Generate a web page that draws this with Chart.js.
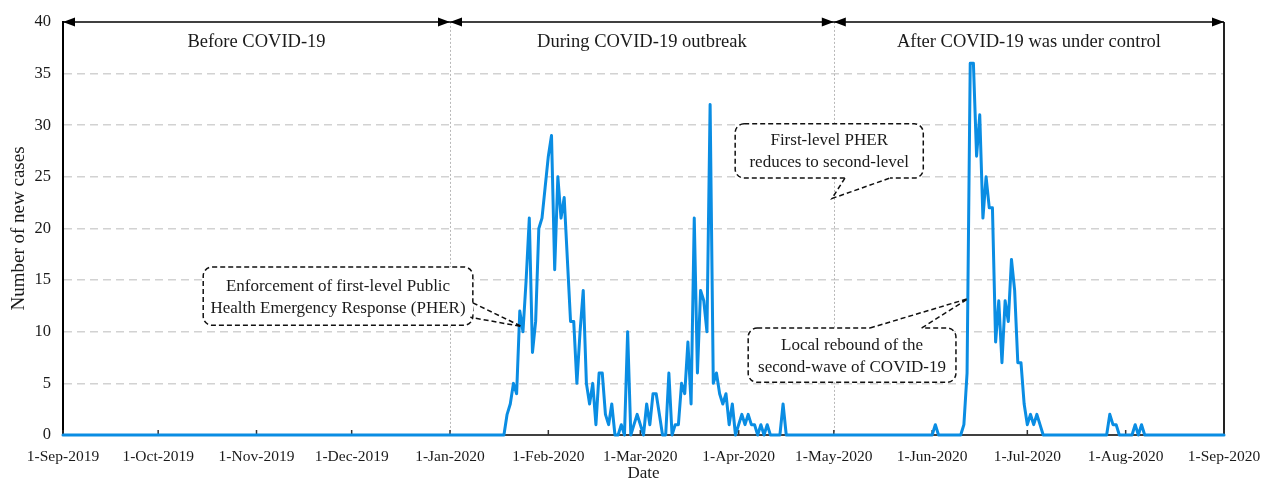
<!DOCTYPE html>
<html>
<head>
<meta charset="utf-8">
<script src="https://cdn.jsdelivr.net/npm/chart.js@4.4.0/dist/chart.umd.min.js"></script>
<style>
  html, body { margin: 0; padding: 0; background: #fff; }
  #wrap { width: 1269px; height: 481px; }
</style>
</head>
<body>
<div id="wrap"><canvas id="chart" width="1269" height="481"></canvas></div>
<script>
// tick labels on the date axis
const monthLabels = ['1-Sep-2019', '1-Oct-2019', '1-Nov-2019', '1-Dec-2019', '1-Jan-2020', '1-Feb-2020',
  '1-Mar-2020', '1-Apr-2020', '1-May-2020', '1-Jun-2020', '1-Jul-2020', '1-Aug-2020', '1-Sep-2020'];

// daily new cases (every other day is 0)
const firstWaveStart = '18-Jan-2020';
const firstWaveCases = [0, 2, 3, 5, 4, 12, 10, 15, 21, 8, 11, 20, 21, 24, 27, 29, 16, 25, 21, 23,
  17, 11, 11, 5, 10, 14, 5, 3, 5, 1, 6, 6, 2, 1, 3, 0, 0, 1, 0, 10,
  0, 1, 2, 1, 0, 3, 1, 4, 4, 2, 0, 0, 6, 0, 1, 1, 5, 4, 9, 3,
  21, 6, 14, 13, 10, 32, 5, 6, 4, 3, 4, 1, 3, 0, 1, 2, 1, 2, 1, 1,
  0, 1, 0, 1, 0, 0, 0, 0, 3, 0];
const secondWaveStart = '1-Jun-2020';
const secondWaveCases = [0, 1, 0, 0, 0, 0, 0, 0, 0, 0, 1, 6, 36, 36, 27, 31, 21, 25, 22, 22,
  9, 13, 7, 13, 11, 17, 14, 7, 7, 3, 1, 2, 1, 2, 1, 0];
const lateStart = '26-Jul-2020';
const lateCases = [0, 2, 1, 1, 0, 0, 0, 0, 0, 1, 0, 1, 0];

const phaseNames = ['Before COVID-19', 'During COVID-19 outbreak', 'After COVID-19 was under control'];
const phaseBounds = ['1-Sep-2019', '1-Jan-2020', '1-May-2020', '1-Sep-2020'];

const SERIF = "'Liberation Serif', 'Times New Roman', serif";
const TEXT = '#1a1a1a';
const MONTHS = 'JanFebMarAprMayJunJulAugSepOctNovDec';

function dayOffset(label) {
  const [d, m, y] = label.split('-');
  const t = Date.UTC(+y, MONTHS.indexOf(m) / 3, +d);
  return Math.round((t - Date.UTC(2019, 8, 1)) / 86400000);
}

const tickDays = monthLabels.map(dayOffset);
const lastDay = tickDays[tickDays.length - 1];
const daily = new Array(lastDay + 1).fill(0);
[[firstWaveStart, firstWaveCases], [secondWaveStart, secondWaveCases], [lateStart, lateCases]]
  .forEach(([start, vals]) => {
    const s = dayOffset(start);
    vals.forEach((v, i) => { daily[s + i] = v; });
  });
const points = daily.map((v, i) => ({x: i, y: v}));

// callout boxes, in axis units (day, cases)
const callouts = [
  {text: ['Enforcement of first-level Public', 'Health Emergency Response (PHER)'],
    box: [44.2, 16.27, 129.2, 10.62], base: [[129.2, 12.8], [128.4, 11.4]], tip: [144.6, 10.5]},
  {text: ['First-level PHER', 'reduces to second-level'],
    box: [211.9, 30.14, 271.2, 24.88], base: [[246.5, 24.88], [260.7, 24.88]], tip: [242.4, 22.9]},
  {text: ['Local rebound of the', 'second-wave of COVID-19'],
    box: [216.0, 10.36, 281.5, 5.1], base: [[254.4, 10.36], [270.7, 10.36]], tip: [285.3, 13.2]}
];

function roundBox(ctx, x0, y0, x1, y1, r) {
  ctx.beginPath();
  ctx.moveTo(x0 + r, y0);
  ctx.lineTo(x1 - r, y0);
  ctx.arcTo(x1, y0, x1, y0 + r, r);
  ctx.lineTo(x1, y1 - r);
  ctx.arcTo(x1, y1, x1 - r, y1, r);
  ctx.lineTo(x0 + r, y1);
  ctx.arcTo(x0, y1, x0, y1 - r, r);
  ctx.lineTo(x0, y0 + r);
  ctx.arcTo(x0, y0, x0 + r, y0, r);
  ctx.closePath();
}

function arrowHead(ctx, xTip, y, dir) {
  ctx.beginPath();
  ctx.moveTo(xTip, y);
  ctx.lineTo(xTip - dir * 12, y - 4.5);
  ctx.lineTo(xTip - dir * 12, y + 4.5);
  ctx.closePath();
  ctx.fill();
}

const decorPlugin = {
  id: 'decor',
  beforeDatasetsDraw(chart) {
    const {ctx, chartArea: a, scales: {x}} = chart;
    ctx.save();
    // dotted phase separators
    ctx.strokeStyle = '#b8b8b8';
    ctx.lineWidth = 1;
    ctx.setLineDash([2, 2]);
    phaseBounds.slice(1, -1).forEach(b => {
      const px = Math.round(x.getPixelForValue(dayOffset(b))) + 0.5;
      ctx.beginPath();
      ctx.moveTo(px, a.top);
      ctx.lineTo(px, a.bottom);
      ctx.stroke();
    });
    ctx.setLineDash([]);
    // right frame line
    ctx.strokeStyle = '#222';
    ctx.lineWidth = 2;
    ctx.beginPath();
    ctx.moveTo(a.right, a.top);
    ctx.lineTo(a.right, a.bottom);
    ctx.stroke();
    // small inner ticks on the date axis
    ctx.strokeStyle = '#333';
    ctx.lineWidth = 1.5;
    tickDays.forEach(d => {
      const px = x.getPixelForValue(d);
      ctx.beginPath();
      ctx.moveTo(px, a.bottom);
      ctx.lineTo(px, a.bottom - 5);
      ctx.stroke();
    });
    ctx.restore();
  },
  afterDatasetsDraw(chart) {
    const {ctx, chartArea: a, scales: {x, y}} = chart;
    ctx.save();
    // phase arrows and titles
    ctx.fillStyle = '#000';
    ctx.strokeStyle = '#000';
    ctx.lineWidth = 1.5;
    const top = a.top;
    ctx.beginPath();
    ctx.moveTo(a.left, top);
    ctx.lineTo(a.right, top);
    ctx.stroke();
    ctx.font = `18.5px ${SERIF}`;
    ctx.textAlign = 'center';
    ctx.textBaseline = 'middle';
    for (let i = 0; i < phaseNames.length; i++) {
      const p0 = x.getPixelForValue(dayOffset(phaseBounds[i]));
      const p1 = x.getPixelForValue(dayOffset(phaseBounds[i + 1]));
      ctx.fillStyle = '#000';
      arrowHead(ctx, p0, top, -1);
      arrowHead(ctx, p1, top, 1);
      ctx.fillStyle = TEXT;
      ctx.fillText(phaseNames[i], (p0 + p1) / 2, top + 20);
    }
    // callouts
    ctx.font = `17px ${SERIF}`;
    callouts.forEach(c => {
      const x0 = x.getPixelForValue(c.box[0]), y0 = y.getPixelForValue(c.box[1]);
      const x1 = x.getPixelForValue(c.box[2]), y1 = y.getPixelForValue(c.box[3]);
      const b = c.base.map(([dx, dy]) => [x.getPixelForValue(dx), y.getPixelForValue(dy)]);
      const t = [x.getPixelForValue(c.tip[0]), y.getPixelForValue(c.tip[1])];
      roundBox(ctx, x0, y0, x1, y1, 9);
      ctx.fillStyle = '#fff';
      ctx.fill();
      ctx.strokeStyle = '#111';
      ctx.lineWidth = 1.5;
      ctx.setLineDash([5, 3]);
      ctx.stroke();
      // open the edge where the pointer leaves the box
      ctx.setLineDash([]);
      ctx.strokeStyle = '#fff';
      ctx.lineWidth = 3;
      ctx.beginPath();
      ctx.moveTo(b[0][0], b[0][1]);
      ctx.lineTo(b[1][0], b[1][1]);
      ctx.stroke();
      ctx.strokeStyle = '#111';
      ctx.lineWidth = 1.5;
      ctx.setLineDash([5, 3]);
      ctx.beginPath();
      ctx.moveTo(b[0][0], b[0][1]);
      ctx.lineTo(t[0], t[1]);
      ctx.lineTo(b[1][0], b[1][1]);
      ctx.stroke();
      ctx.setLineDash([]);
      ctx.fillStyle = TEXT;
      const cx = (x0 + x1) / 2, cy = (y0 + y1) / 2 + 1;
      ctx.fillText(c.text[0], cx, cy - 11);
      ctx.fillText(c.text[1], cx, cy + 11);
    });
    ctx.restore();
  }
};

new Chart(document.getElementById('chart'), {
  type: 'line',
  data: {
    datasets: [{
      data: points,
      borderColor: '#0a8de3',
      borderWidth: 3,
      borderJoinStyle: 'round',
      borderCapStyle: 'round',
      pointRadius: 0,
      tension: 0,
      fill: false,
      clip: false
    }]
  },
  options: {
    responsive: false,
    animation: false,
    layout: {padding: {top: 17, right: 45, left: 0, bottom: 0}},
    plugins: {legend: {display: false}, tooltip: {enabled: false}},
    scales: {
      x: {
        type: 'linear',
        min: 0,
        max: lastDay,
        afterBuildTicks: (scale) => { scale.ticks = tickDays.map(v => ({value: v})); },
        afterFit: (scale) => { scale.height = 46; },
        ticks: {
          autoSkip: false,
          maxRotation: 0,
          padding: 5,
          color: TEXT,
          font: {family: SERIF, size: 15.5},
          callback: (v, i) => monthLabels[i]
        },
        grid: {display: false},
        border: {display: true, color: '#404040', width: 2},
        title: {display: true, text: 'Date', color: TEXT, font: {family: SERIF, size: 17}, padding: {top: 0, bottom: -3}}
      },
      y: {
        min: 0,
        max: 40,
        afterFit: (scale) => { scale.width = 63; },
        ticks: {stepSize: 5, padding: 12, color: TEXT, font: {family: SERIF, size: 16.5}},
        grid: {
          color: (c) => (c.tick && (c.tick.value === 0 || c.tick.value === 40)) ? 'rgba(0,0,0,0)' : '#d2d2d2',
          lineWidth: 1.5,
          drawTicks: false
        },
        border: {display: true, color: '#000', width: 2, dash: [8, 5]},
        title: {display: true, text: 'Number of new cases', color: TEXT, font: {family: SERIF, size: 19}, padding: {top: 8, bottom: 0}}
      }
    }
  },
  plugins: [decorPlugin]
});
</script>
</body>
</html>
